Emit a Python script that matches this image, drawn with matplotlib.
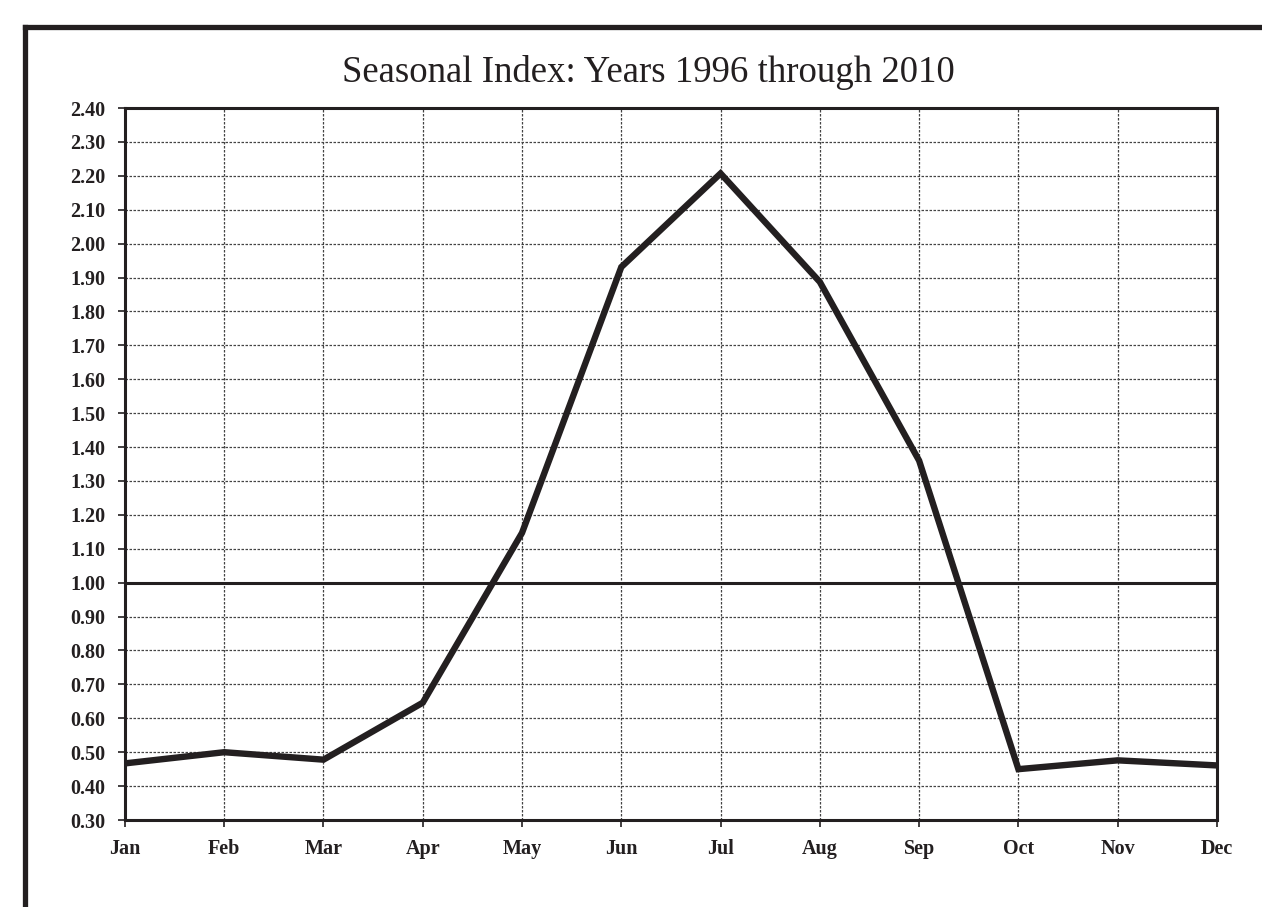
import matplotlib.pyplot as plt
from matplotlib.lines import Line2D

months = ['Jan', 'Feb', 'Mar', 'Apr', 'May', 'Jun', 'Jul', 'Aug', 'Sep', 'Oct', 'Nov', 'Dec']
seasonal_index = [0.467, 0.500, 0.478, 0.646, 1.147, 1.931, 2.207, 1.887, 1.360, 0.450, 0.476, 0.461]
y_ticks = [0.30 + 0.10 * i for i in range(22)]

plt.rcParams['font.family'] = ['Liberation Serif', 'DejaVu Serif']

fig = plt.figure(figsize=(12.62, 9.07), dpi=100)
ax = fig.add_axes([0.0990, 0.0959, 0.9643 - 0.0990, 0.8809 - 0.0959])

x = list(range(len(months)))
ax.plot(x, seasonal_index, color='#231f20', linewidth=4.6, solid_joinstyle='miter', zorder=4)
ax.axhline(1.0, color='#231f20', linewidth=2.2, zorder=3)

ax.set_xlim(0, len(months) - 1)
ax.set_ylim(0.30, 2.40)
ax.set_xticks(x)
ax.set_xticklabels(months, fontsize=14.5, fontweight='bold')
ax.set_yticks(y_ticks)
ax.set_yticklabels(['%.2f' % v for v in y_ticks], fontsize=14.5, fontweight='bold')
ax.tick_params(axis='both', direction='out', length=5, width=1.2, color='#231f20', pad=9,
               labelcolor='#231f20')

ax.grid(True, color='#444444', linewidth=0.9, linestyle=(0, (2, 1.2)))
ax.set_axisbelow(True)
for side in ['left', 'right', 'top', 'bottom']:
    ax.spines[side].set_linewidth(2.2)
    ax.spines[side].set_color('#231f20')

fig.text(0.514, 0.920, 'Seasonal Index: Years 1996 through 2010', ha='center', va='center',
         fontsize=26.5, color='#231f20')

# outer frame: left and top edges
fig.add_artist(Line2D([0.0202, 0.0202], [0.0, 0.9702], transform=fig.transFigure,
                      color='#231f20', linewidth=3.8, solid_capstyle='projecting'))
fig.add_artist(Line2D([0.0202, 1.0], [0.9702, 0.9702], transform=fig.transFigure,
                      color='#231f20', linewidth=3.8, solid_capstyle='projecting'))

fig.savefig('out.png', dpi=100)
